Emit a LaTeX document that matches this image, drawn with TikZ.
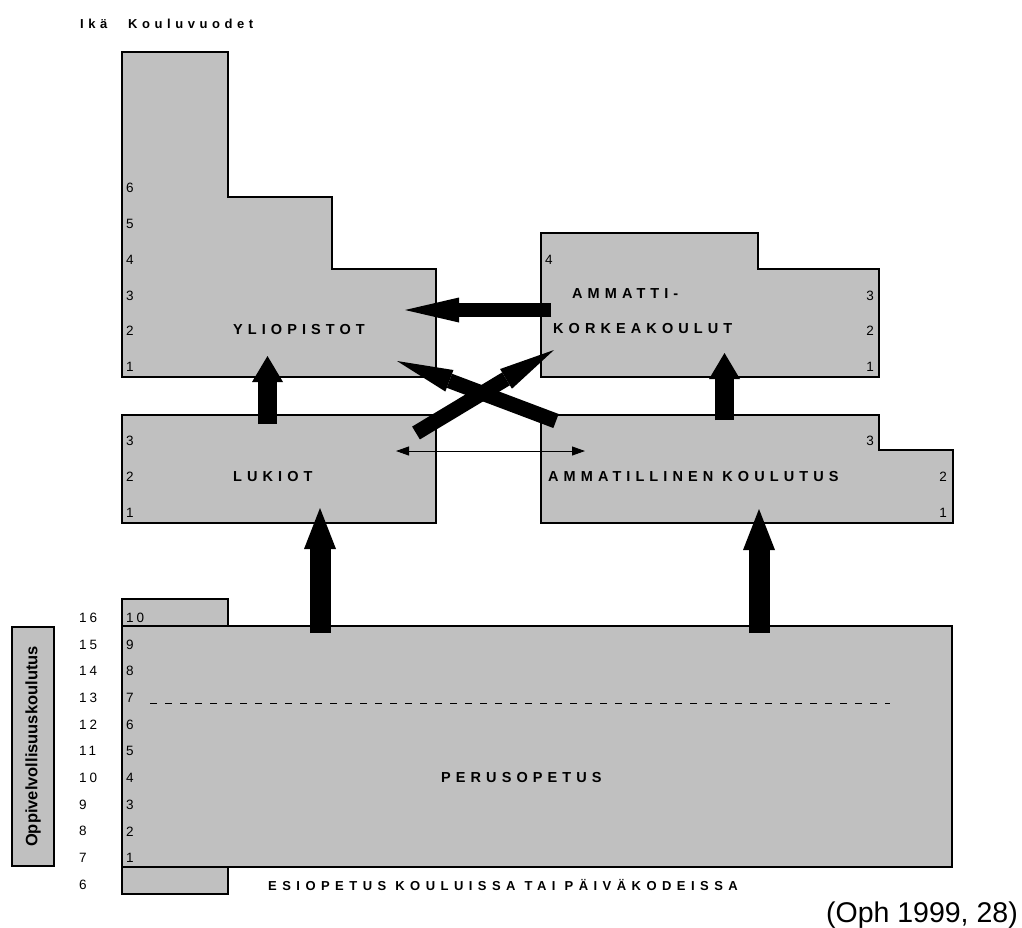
\documentclass[tikz,border=0pt]{standalone}
\usepackage{fontspec}
\setmainfont{Liberation Sans}
\newfontfamily\spacedfont[LetterSpace=35]{Liberation Sans}
\newfontfamily\widefont[LetterSpace=42]{Liberation Sans}
\newfontfamily\agefont[LetterSpace=22]{Liberation Sans}
\usetikzlibrary{arrows.meta}
\definecolor{boxgray}{HTML}{C0C0C0}

\tikzset{
  box/.style={draw, line width=2pt, fill=boxgray},
  lbl/.style={inner sep=0pt, anchor=west, font=\spacedfont\bfseries\fontsize{14.5}{14.5}\selectfont},
  num/.style={inner sep=0pt, font=\fontsize{13.5}{13.5}\selectfont},
  agenum/.style={inner sep=0pt, anchor=west, font=\agefont\fontsize{13.5}{13.5}\selectfont},
  uparrow/.style={line width=19pt, -{Triangle[width=31pt, length=26pt, line width=0pt]}},
  bigarrow/.style={line width=21pt, -{Triangle[width=32pt, length=41pt, line width=0pt]}},
  sidearrow/.style={line width=14pt, -{Triangle[width=25pt, length=54pt, line width=0pt]}},
  crossarrow/.style={line width=15pt, -{Triangle[width=23pt, length=56pt, line width=0pt]}},
  twoway/.style={line width=0.9pt, {Triangle[width=9pt, length=13pt]}-{Triangle[width=9pt, length=13pt]}}
}

\begin{document}
\begin{tikzpicture}[x=1pt, y=-1pt]
  \useasboundingbox (0,0) rectangle (1022,927);

  \node[lbl, font=\spacedfont\bfseries\fontsize{13}{13}\selectfont] (ika) at (80,24) {Ikä};
  \node[lbl, font=\spacedfont\bfseries\fontsize{13}{13}\selectfont] (vuodet) at (128,24) {Kouluvuodet};

  \draw[box] (122,52) -| (228,197) -| (332,269) -| (436,377) -| cycle;
  \draw[box] (541,233) -| (758,269) -| (879,377) -| cycle;
  \draw[box] (122,415) rectangle (436,523);
  \draw[box] (541,415) -| (879,450) -| (953,523) -| cycle;

  \draw[box] (122,599) rectangle (228,626);
  \draw[box] (122,626) rectangle (952,867);
  \draw[box] (122,867) rectangle (228,894);
  \draw[line width=0.8pt, dash pattern=on 7pt off 8pt] (150,703) -- (890,703);

  \node[draw, line width=1.4pt, fill=boxgray, rotate=90, minimum width=239pt, minimum height=42pt, inner sep=0pt,
        font=\bfseries\fontsize{16.5}{16.5}\selectfont] (ovk) at (33,746.5) {Oppivelvollisuuskoulutus};

  \foreach \k in {1,...,6}
    \node[num, anchor=west] (yl\k) at (126,{367-35.8*(\k-1)}) {\k};
  \node[num, anchor=west] (amk4) at (545,260) {4};
  \foreach \k in {1,...,3} {
    \node[num, anchor=east] (amk\k) at (874,{367-35.8*(\k-1)}) {\k};
    \node[num, anchor=west] (luk\k) at (126,{513-36*(\k-1)}) {\k};
  }
  \node[num, anchor=east] (amm3) at (874,441) {3};
  \node[num, anchor=east] (amm2) at (947,477) {2};
  \node[num, anchor=east] (amm1) at (947,513) {1};

  \foreach \k in {1,...,10}
    \node[agenum] (per\k) at (126,{858-26.67*(\k-1)}) {\k};
  \foreach \k in {7,...,16}
    \node[agenum] (ika\k) at (79,{858-26.67*(\k-7)}) {\k};
  \node[agenum] (ika6) at (79,885) {6};

  \node[lbl] (ylio) at (233,330) {YLIOPISTOT};
  \node[lbl] (amk) at (572,294) {AMMATTI-};
  \node[lbl] (amk2) at (553,329) {KORKEAKOULUT};
  \node[lbl] (lukiot) at (233,476) {LUKIOT};
  \node[lbl] (ammkoul) at (548,476) {AMMATILLINEN KOULUTUS};
  \node[lbl] (perus) at (441,777) {PERUSOPETUS};
  \node[lbl, font=\widefont\bfseries\fontsize{13}{13}\selectfont] (esi) at (268,885) {ESIOPETUS KOULUISSA TAI PÄIVÄKODEISSA};

  \node[inner sep=0pt, anchor=base east, font=\fontsize{28.5}{28.5}\selectfont] (lahde) at (1018,922) {(Oph 1999, 28)};

  \coordinate (luk-out) at (267.5,424);
  \coordinate (ylio-in) at (267.5,356);
  \coordinate (amm-out) at (724.5,420);
  \coordinate (amk-in) at (724.5,353);
  \coordinate (per-l) at (320,633);
  \coordinate (luk-in) at (320,508);
  \coordinate (per-r) at (759,633);
  \coordinate (amm-in) at (759,509);
  \coordinate (amk-out) at (551,310);
  \coordinate (ylio-side) at (405,310);
  \coordinate (amm-x) at (556,421);
  \coordinate (ylio-x) at (397,361);
  \coordinate (luk-x) at (416,433);
  \coordinate (amk-x) at (554,350);
  \coordinate (luk-d) at (396,451);
  \coordinate (amm-d) at (585,451);

  \draw[uparrow] (luk-out) -- (ylio-in);
  \draw[uparrow] (amm-out) -- (amk-in);
  \draw[bigarrow] (per-l) -- (luk-in);
  \draw[bigarrow] (per-r) -- (amm-in);
  \draw[sidearrow] (amk-out) -- (ylio-side);
  \draw[crossarrow] (amm-x) -- (ylio-x);
  \draw[crossarrow] (luk-x) -- (amk-x);
  \draw[twoway] (luk-d) -- (amm-d);

\end{tikzpicture}
\end{document}
